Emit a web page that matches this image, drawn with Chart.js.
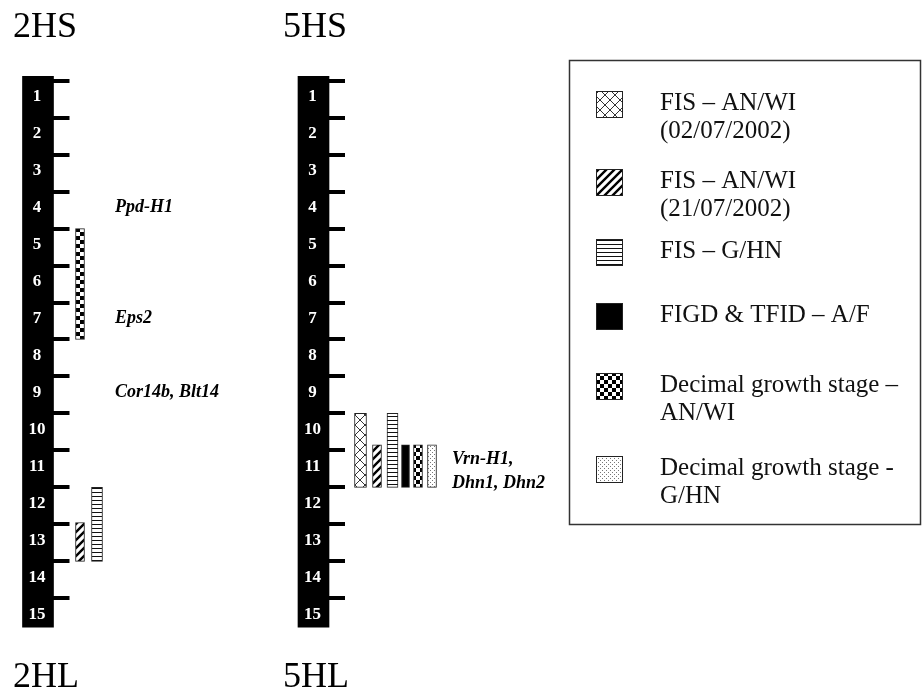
<!DOCTYPE html>
<html>
<head>
<meta charset="utf-8">
<script src="https://cdn.jsdelivr.net/npm/chart.js@4.4.1/dist/chart.umd.min.js"></script>
<style>
  html, body { margin: 0; padding: 0; background: #fff; }
  #wrap { width: 923px; height: 688px; }
</style>
</head>
<body>
<div id="wrap"><canvas id="map" width="923" height="688"></canvas></div>
<script>
// ---- chromosomes and bins ----
const chromosomes    = ['2H', '5H'];
const shortArmLabels = ['2HS', '5HS'];
const longArmLabels  = ['2HL', '5HL'];
const binLabels      = ['1','2','3','4','5','6','7','8','9','10','11','12','13','14','15'];
const binBoundaries  = [0,1,2,3,4,5,6,7,8,9,10,11,12,13,14];
const chromosomeExtent = [-0.12, 14.78];

// ---- traits (legend order) ----
const traitNames = [
  ['FIS \u2013 AN/WI', '(02/07/2002)'],
  ['FIS \u2013 AN/WI', '(21/07/2002)'],
  ['FIS \u2013 G/HN'],
  ['FIGD & TFID \u2013 A/F'],
  ['Decimal growth stage \u2013', 'AN/WI'],
  ['Decimal growth stage -', 'G/HN']
];

// ---- QTL intervals, in bins from the short-arm end ----
const qtlChromosome = [0, 0, 0, 1, 1, 1, 1, 1, 1];
const qtlTrait      = [4, 1, 2, 0, 1, 2, 3, 4, 5];
const qtlFrom       = [4, 11.95, 11, 9, 9.85, 9, 9.85, 9.85, 9.85];
const qtlTo         = [7, 13, 13, 11, 11, 11, 11, 11, 11];

// ---- candidate genes ----
const geneChromosome = [0, 0, 0, 1];
const geneBin        = [4, 7, 9, 11];
const geneNames      = [['Ppd-H1'], ['Eps2'], ['Cor14b, Blt14'], ['Vrn-H1,', 'Dhn1, Dhn2']];

// ---- layout ----
const W = 923, H = 688;
const BIN_PX = 36.97, TOP_PX = 80.7;
const COL0_PX = 38, COL_GAP = 275.5;
const BODY_WIDTH = 31, TICK_LEN = 16, TICK_W = 4;
const qtlTrack = [0, 0, 1, 0, 1, 2, 3, 4, 5];
const TRACK_OFFSETS = [[42, 59], [47, 63.5, 79, 92, 104.5, 118.5]];
const TRAIT_WIDTH = [12, 9, 11, 8, 9, 9];
const GENE_DX = [77, 138.5];
const ARM_DX = [-25, -30.5];
const SERIF = '"Liberation Serif", "Times New Roman", serif';

// ---- fill patterns ----
function makePattern(size, draw) {
  const c = document.createElement('canvas');
  c.width = size; c.height = size;
  const g = c.getContext('2d');
  g.fillStyle = '#fff';
  g.fillRect(0, 0, size, size);
  draw(g, size);
  return g.createPattern(c, 'repeat');
}
const patterns = [
  makePattern(10, (g, s) => {           // cross-hatch
    g.strokeStyle = '#333'; g.lineWidth = 1;
    g.beginPath();
    g.moveTo(0, 0); g.lineTo(s, s);
    g.moveTo(s, 0); g.lineTo(0, s);
    g.stroke();
  }),
  makePattern(8, (g, s) => {            // diagonal stripes
    g.strokeStyle = '#000'; g.lineWidth = 2.4;
    g.beginPath();
    g.moveTo(0, s); g.lineTo(s, 0);
    g.moveTo(-s / 2, s / 2); g.lineTo(s / 2, -s / 2);
    g.moveTo(s / 2, s * 1.5); g.lineTo(s * 1.5, s / 2);
    g.stroke();
  }),
  makePattern(4, (g, s) => {            // horizontal stripes
    g.fillStyle = '#111'; g.fillRect(0, 0, s, 1);
  }),
  '#000',
  makePattern(8, (g, s) => {            // checkerboard
    g.fillStyle = '#000';
    g.fillRect(0, 0, s / 2, s / 2);
    g.fillRect(s / 2, s / 2, s / 2, s / 2);
  }),
  makePattern(4, (g, s) => {            // stipple
    g.fillStyle = '#777';
    g.fillRect(0, 0, 1, 1);
    g.fillRect(2, 2, 1, 1);
  })
];

// ---- datasets ----
const datasets = [{
  label: 'chromosome',
  data: chromosomes.map((c, i) => ({ x: i * COL_GAP, y: chromosomeExtent })),
  backgroundColor: '#000',
  borderWidth: 0,
  barThickness: BODY_WIDTH,
  grouped: false
}];
traitNames.forEach((lines, t) => {
  const pts = [];
  qtlTrait.forEach((tr, q) => {
    if (tr !== t) return;
    const c = qtlChromosome[q];
    pts.push({ x: c * COL_GAP + TRACK_OFFSETS[c][qtlTrack[q]], y: [qtlFrom[q], qtlTo[q]] });
  });
  datasets.push({
    label: lines.join(' '),
    lines: lines,
    data: pts,
    backgroundColor: patterns[t],
    borderColor: '#222',
    borderWidth: 1,
    borderSkipped: false,
    barThickness: TRAIT_WIDTH[t],
    grouped: false
  });
});

// ---- ideogram decorations, gene names and legend ----
const ideogram = {
  id: 'ideogram',
  afterDatasetsDraw(chart) {
    const { ctx, scales: { x, y } } = chart;
    ctx.save();
    chromosomes.forEach((chr, ci) => {
      const cx = x.getPixelForValue(ci * COL_GAP);
      const right = cx + BODY_WIDTH / 2;
      // bin boundary ticks
      ctx.fillStyle = '#000';
      binBoundaries.forEach(b => {
        const py = y.getPixelForValue(b);
        ctx.fillRect(right - 1, Math.round(py - TICK_W / 2), TICK_LEN + 1, TICK_W);
      });
      // bin numbers
      ctx.fillStyle = '#fff';
      ctx.font = 'bold 17px ' + SERIF;
      ctx.textAlign = 'center';
      ctx.textBaseline = 'alphabetic';
      binLabels.forEach((lab, i) => {
        ctx.fillText(lab, cx - 1, y.getPixelForValue(i + 1 - 0.45));
      });
      // arm names
      ctx.fillStyle = '#000';
      ctx.font = '36px ' + SERIF;
      ctx.textAlign = 'left';
      ctx.fillText(shortArmLabels[ci], cx + ARM_DX[ci], 37);
      ctx.fillText(longArmLabels[ci], cx + ARM_DX[ci], 687);
    });
    // gene names
    ctx.fillStyle = '#000';
    ctx.font = 'italic bold 18px ' + SERIF;
    ctx.textAlign = 'left';
    geneNames.forEach((lines, g) => {
      const c = geneChromosome[g];
      const gx = x.getPixelForValue(c * COL_GAP) + GENE_DX[c];
      const base = y.getPixelForValue(geneBin[g] - 0.45 - 0.18 * (lines.length - 1));
      lines.forEach((ln, i) => ctx.fillText(ln, gx, base + i * 24));
    });
    // legend
    const box = { x: 569, y: 60, w: 351, h: 464 };
    ctx.strokeStyle = '#333';
    ctx.lineWidth = 1.5;
    ctx.strokeRect(box.x + 0.5, box.y + 0.5, box.w, box.h);
    const baselines = [110, 188, 258, 322, 392, 475];
    ctx.font = '25px ' + SERIF;
    chart.data.datasets.slice(1).forEach((ds, i) => {
      const b = baselines[i];
      const sy = b - 19, sx = 596, s = 27;
      ctx.fillStyle = ds.backgroundColor;
      ctx.fillRect(sx, sy, s, s);
      ctx.strokeStyle = '#222';
      ctx.lineWidth = 1;
      ctx.strokeRect(sx + 0.5, sy + 0.5, s - 1, s - 1);
      ctx.fillStyle = '#111';
      ds.lines.forEach((ln, k) => ctx.fillText(ln, 660, b + k * 28));
    });
    ctx.restore();
  }
};

new Chart(document.getElementById('map'), {
  type: 'bar',
  data: { datasets },
  options: {
    responsive: false,
    animation: false,
    events: [],
    layout: { padding: 0 },
    plugins: { legend: { display: false }, tooltip: { enabled: false } },
    datasets: { bar: { clip: false } },
    scales: {
      x: { type: 'linear', display: false, offset: false, min: -COL0_PX, max: W - COL0_PX },
      y: { type: 'linear', display: false, reverse: true,
           min: -TOP_PX / BIN_PX, max: (H - TOP_PX) / BIN_PX }
    }
  },
  plugins: [ideogram]
});
</script>
</body>
</html>
